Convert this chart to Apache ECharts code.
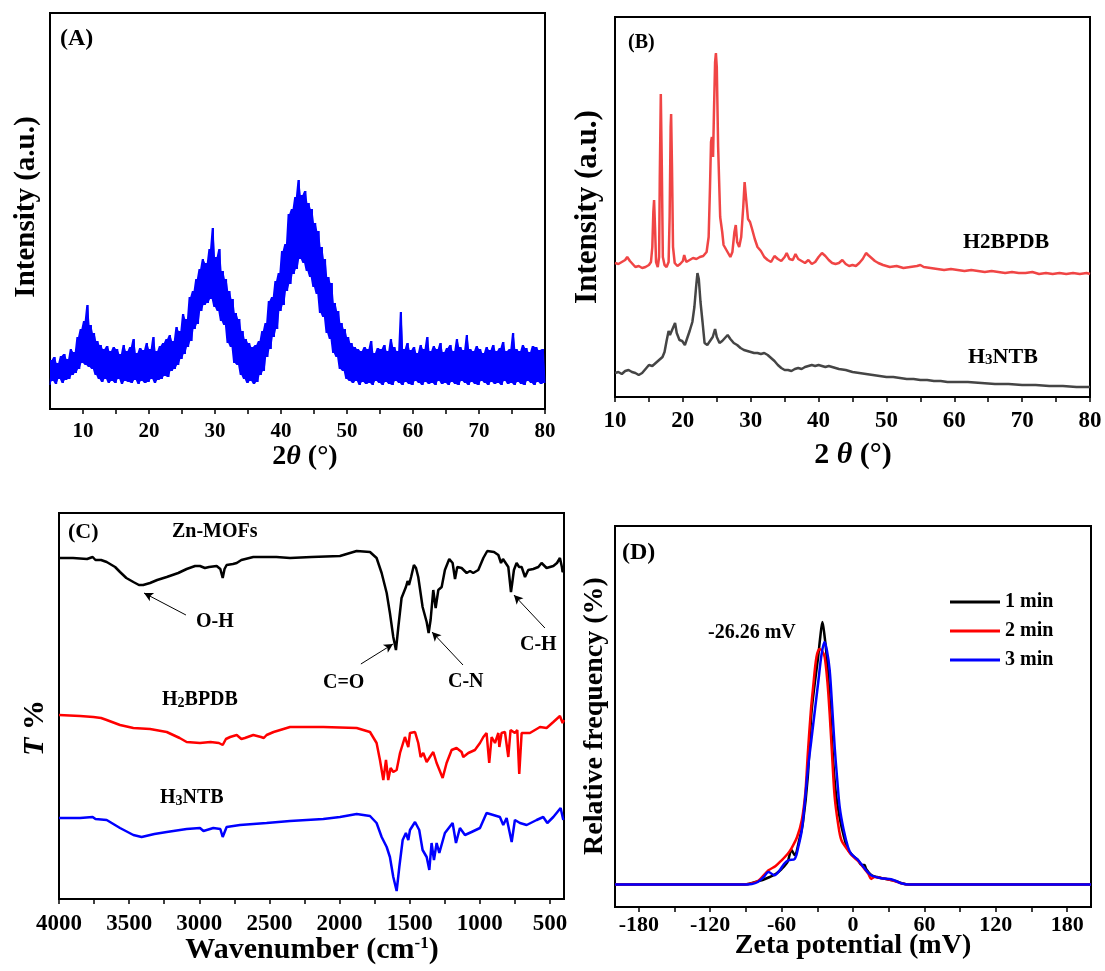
<!DOCTYPE html>
<html>
<head>
<meta charset="utf-8">
<script src="https://cdn.jsdelivr.net/npm/echarts@6/dist/echarts.min.js"></script>
<style>
html, body { margin: 0; padding: 0; background: #fff; }
#chart { width: 1105px; height: 971px; }
</style>
</head>
<body>
<div id="chart"></div>
<script>
// (A) XRD of Zn-MOFs, sampled every 0.25 deg from 5 to 80 (a.u.)
const xrdStartA = 5, xrdStepA = 0.25;
const intensityA = [
    24,49,28,52, 25,46,30,53, 26,55,29,50, 30,60,34,57, 36,72,40,80,
    46,88,44,104, 42,84,40,76, 34,68,30,64, 27,60,30,63, 26,58,28,62,
    26,60,30,55, 25,64,28,58, 27,62,26,70, 29,56,25,61, 28,59,26,66,
    27,60,30,72, 26,58,29,63, 30,66,33,70, 32,74,38,68, 40,82,44,78,
    50,95,55,90, 62,112,68,118, 80,130,85,140, 98,150,104,146, 106,160,110,181,
    102,152,98,160, 88,138,84,130, 66,118,62,110, 46,96,44,90, 34,78,30,70,
    26,66,28,62, 25,64,27,68, 34,78,38,86, 52,108,60,112, 72,128,80,136,
    98,158,104,165, 118,195,125,200, 135,212,140,229, 150,214,146,218, 138,206,132,200,
    122,186,115,178, 96,162,92,150, 76,132,70,126, 56,106,52,98, 40,86,38,80,
    30,72,28,66, 26,62,28,60, 24,58,27,62, 25,60,26,68, 24,56,28,61,
    26,60,24,64, 27,58,25,70, 24,62,28,58, 26,97,24,60, 27,66,25,59,
    24,62,28,56, 26,64,24,60, 27,72,25,58, 26,63,24,60, 28,66,25,57,
    26,61,24,64, 27,58,25,70, 24,62,28,59, 26,74,24,60, 27,58,25,63,
    24,60,28,56, 26,62,24,59, 27,64,25,58, 26,61,24,67, 28,58,25,60,
    26,76,24,60, 27,58,25,64, 24,61,28,57, 26,63,24,62, 27,59,25,60,
    26
];

// (B) XRD of the ligands [2theta, intensity]
const bpdbXRD = [
    [10,134],[10.5,133],[11,135],[11.5,137],[11.8,140],[12.2,136],[12.6,133],[13,130],[13.5,131],[14,129],
    [14.5,130],[15,132],[15.3,135],[15.5,150],[15.65,185],[15.76,197],[15.9,170],[16.05,135],[16.3,130],[16.5,140],
    [16.6,220],[16.75,303],[16.9,230],[17.05,140],[17.3,132],[17.6,130],[17.9,135],[18.05,180],[18.2,270],[18.27,283],
    [18.4,230],[18.55,150],[18.8,134],[19.2,131],[19.6,133],[20,136],[20.2,142],[20.5,135],[21,137],[21.5,139],
    [22,138],[22.5,140],[23,141],[23.5,145],[23.8,160],[24,210],[24.15,255],[24.28,260],[24.45,240],[24.6,290],
    [24.75,335],[24.87,344],[25,330],[25.2,250],[25.5,180],[25.8,165],[26,152],[26.5,146],[27,140],[27.3,145],
    [27.6,165],[27.8,172],[28,155],[28.3,150],[28.6,160],[28.9,190],[29.1,215],[29.3,200],[29.6,178],[29.9,175],
    [30.2,168],[30.6,158],[31,150],[31.5,146],[32,140],[32.5,137],[33,135],[33.5,141],[34,138],[34.5,136],
    [35,140],[35.3,144],[35.7,138],[36.2,137],[36.6,143],[37,138],[37.5,136],[38,134],[38.5,137],[39,133],
    [39.5,135],[40,140],[40.5,144],[41,141],[41.5,137],[42,134],[42.5,133],[43,134],[43.5,137],[44,133],
    [44.5,131],[45,132],[45.5,131],[46,134],[46.5,138],[47,144],[47.3,142],[47.8,139],[48.3,136],[48.8,134],
    [49.5,132],[50,131],[50.5,130],[51.5,131],[52.5,129],[53.5,130],[54.5,131],[55,132],[55.5,130],[56.5,129],
    [57.5,128],[58.5,127],[59.5,128],[60.5,127],[61.5,126],[62.5,127],[63.5,126],[64.5,125],[65.5,126],[66.5,125],
    [67.5,124],[68.5,125],[69.5,124],[70.5,124],[71.5,125],[72.5,123],[73.5,124],[74.5,123],[75.5,124],[76.5,123],
    [77.5,124],[78.5,123],[79.5,124],[80,123]
];
const ntbXRD = [
    [10,24],[10.5,25],[11,23],[11.5,26],[12,27],[12.5,25],[13,24],[13.5,22],[14,24],[14.5,28],
    [15,32],[15.5,31],[16,34],[16.5,37],[17,40],[17.3,45],[17.6,56],[17.9,66],[18.1,62],[18.3,60],
    [18.6,70],[18.85,74],[19.1,64],[19.5,57],[19.9,56],[20.3,52],[20.6,58],[21,66],[21.4,75],[21.7,90],
    [21.95,110],[22.15,124],[22.35,118],[22.6,95],[22.9,75],[23.2,54],[23.6,52],[24,56],[24.4,60],[24.75,68],
    [25,60],[25.4,54],[25.8,56],[26.2,59],[26.6,62],[27,58],[27.5,54],[28,52],[28.5,49],[29,47],
    [29.5,46],[30,45],[30.5,44],[31,44],[31.5,43],[32,44],[32.5,42],[33,39],[33.5,36],[34,32],
    [34.5,29],[35,27],[35.5,27],[36,26],[36.5,28],[37,29],[37.5,28],[38,30],[38.5,31],[39,32],
    [39.5,31],[40,32],[40.5,31],[41,30],[41.5,31],[42,30],[43,28],[44,27],[45,25],[46,24],
    [47,23],[48,22],[49,21],[50,20],[51,20],[52,19],[53,18],[54,18],[55,17],[56,17],
    [57,16],[58,16],[59,15],[60,15],[62,15],[64,14],[66,13],[68,13],[70,12],[72,12],
    [74,11],[76,11],[78,10],[80,10]
];

// (C) FTIR [wavenumber, T]
const znFTIR = [
    [4000,341],[3900,341],[3800,340],[3760,342],[3740,339],[3700,339],[3660,337],[3600,332],[3565,327],[3520,321],
    [3470,317],[3430,314],[3400,314],[3351,316],[3300,319],[3232,322],[3150,326],[3090,330],[3030,333],[2995,333],
    [2960,331],[2930,332],[2876,333],[2850,330],[2833,321],[2820,330],[2805,334],[2760,335],[2733,336],[2720,334],
    [2700,339],[2615,342],[2450,342],[2353,341],[2200,342],[1997,343],[1878,348],[1783,347],[1736,341],[1700,326],
    [1664,306],[1641,286],[1617,262],[1598,249],[1581,272],[1558,301],[1527,312],[1515,318],[1505,314],[1490,322],
    [1470,334],[1455,331],[1439,322],[1408,292],[1379,277],[1365,266],[1351,279],[1332,309],[1315,291],[1296,309],
    [1272,312],[1249,329],[1218,340],[1194,336],[1177,320],[1161,332],[1130,331],[1094,326],[1070,328],[1047,326],
    [1011,329],[975,341],[947,348],[899,347],[868,344],[849,336],[835,340],[821,340],[797,332],[778,307],
    [770,315],[757,329],[738,336],[720,332],[702,332],[678,322],[655,329],[619,330],[583,332],[560,336],
    [548,337],[524,331],[476,333],[450,336],[429,341],[415,332],[410,327],[400,329]
];
const bpdbFTIR = [
    [4000,184],[3850,183],[3755,182],[3700,181],[3660,179],[3565,174],[3470,171],[3351,170],[3232,167],[3140,161],
    [3090,157],[2995,156],[2920,157],[2860,156],[2833,154],[2810,160],[2780,162],[2733,164],[2700,160],[2675,161],
    [2615,164],[2560,162],[2540,161],[2520,164],[2470,167],[2353,172],[2282,172],[2116,172],[1878,171],[1783,167],
    [1736,156],[1712,139],[1688,119],[1669,139],[1653,119],[1636,131],[1617,127],[1593,129],[1569,146],[1534,162],
    [1510,152],[1498,166],[1462,167],[1439,156],[1422,142],[1403,146],[1379,137],[1356,142],[1332,147],[1308,136],
    [1265,121],[1237,136],[1201,149],[1166,151],[1130,147],[1118,142],[1082,146],[1035,149],[999,156],[975,162],
    [952,166],[933,136],[916,162],[892,156],[868,166],[861,152],[845,166],[821,167],[797,142],[781,169],
    [750,166],[733,169],[719,125],[702,166],[643,166],[571,172],[524,171],[476,177],[429,183],[410,176],
    [400,179]
];
const ntbFTIR = [
    [4000,81],[3850,81],[3760,82],[3740,80],[3660,79],[3565,71],[3470,64],[3411,62],[3320,65],[3232,67],
    [3090,70],[2995,71],[2970,68],[2900,71],[2850,70],[2833,62],[2805,72],[2710,74],[2520,76],[2353,78],
    [2116,80],[1997,82],[1878,85],[1783,83],[1736,76],[1700,62],[1664,52],[1641,42],[1617,22],[1593,8],
    [1574,32],[1550,59],[1527,66],[1510,59],[1498,69],[1462,77],[1432,69],[1408,49],[1379,42],[1360,29],
    [1344,56],[1327,39],[1308,56],[1289,46],[1249,66],[1194,76],[1170,56],[1142,71],[1106,64],[1059,67],
    [999,71],[952,86],[904,84],[857,82],[833,74],[809,81],[773,57],[750,79],[714,76],[666,74],
    [595,79],[548,82],[519,76],[476,82],[424,91],[405,79],[400,79]
];

// (D) zeta potential distributions [mV, relative frequency]
const zeta1 = [
    [-200,22.4],[-95,22.4],[-88,23],[-82,25],[-76,27],[-70,30],[-65,33],[-60,38],[-55,45],[-51.7,57],
    [-49,52],[-45,68],[-42,85],[-38,130],[-35,193],[-32,225],[-29.3,250],[-27.5,270],[-25.7,285],[-24,272],
    [-22.3,253],[-20,215],[-18,173],[-16,135],[-14,110],[-11,88],[-8,72],[-4.5,58],[-1.4,53],[2,49],
    [4.2,47],[7,42],[9.7,42],[11,38],[15.3,32],[20,30],[23.7,29],[32,27],[36,26],[40.4,24],
    [47,22.4],[200,22.4]
];
const zeta2 = [
    [-200,22.4],[-95,22.4],[-88,23],[-80,26],[-71,36.7],[-65,41],[-60,46.7],[-55,53],[-51.7,58.7],[-47,70],
    [-43,87],[-40,115],[-38,153],[-35.5,195],[-33.5,220],[-30.7,250],[-28,258],[-26,256],[-23.8,250],[-21.5,225],
    [-19.6,193],[-17.5,150],[-15.4,110],[-12.5,83],[-9.8,67],[-4.2,56.7],[-1.4,52],[4.2,46],[9.7,38],[13,33],
    [15.3,28],[18,30],[23.7,29],[32,27],[40.4,23.7],[47,22.4],[200,22.4]
];
const zeta3 = [
    [-200,22.4],[-95,22.4],[-85,23],[-80,25],[-75,30],[-71,35],[-66,31.7],[-62,36],[-58,43],[-54.5,46.7],
    [-49,48],[-46,60],[-43,77],[-40.5,105],[-38,137],[-35,167],[-32,197],[-29,227],[-26.5,252],[-24,265],
    [-22,257],[-19.6,237],[-17.5,200],[-15.4,160],[-13.3,128],[-11.2,100],[-8,78],[-4.2,60],[-1.4,53],[4.2,47],
    [9.7,38.7],[15.3,31.7],[23.7,28.7],[32,27.7],[36,26],[40.4,23.7],[47,22.4],[200,22.4]
];

// tick positions and labels
const ticksA = [10,15,20,25,30,35,40,45,50,55,60,65,70,75,80];
const labelsA = [10,20,30,40,50,60,70,80];
const ticksB = [10,15,20,25,30,35,40,45,50,55,60,65,70,75,80];
const labelsB = [10,20,30,40,50,60,70,80];
const ticksC = [500,750,1000,1250,1500,1750,2000,2250,2500,2750,3000,3250,3500,3750,4000];
const labelsC = [500,1000,1500,2000,2500,3000,3500,4000];
const ticksD = [-180,-150,-120,-90,-60,-30,0,30,60,90,120,150,180];
const labelsD = [-180,-120,-60,0,60,120,180];

const FONT = '"Times New Roman", "Liberation Serif", serif';

// panel A: the trace, plus the solid band that the dense noise forms
const angleA = intensityA.map((_, i) => xrdStartA + i * xrdStepA);
const seriesA = intensityA.map((v, i) => [angleA[i], v]);
const last = intensityA.length - 1;
const bandHighA = intensityA.map((v, i) => [angleA[i], Math.max(v, intensityA[Math.min(i + 1, last)])]);
const bandLowA = intensityA.map((v, i) => [angleA[i], Math.min(v, intensityA[Math.min(i + 1, last)])]);

function xAxisOf(grid, min, max, ticks, labels, size, margin, inverse) {
    return {
        type: 'value', gridIndex: grid, min: min, max: max, inverse: !!inverse,
        axisLine: { show: true, onZero: false, lineStyle: { color: '#000', width: 2 } },
        axisTick: { show: true, customValues: ticks, length: 5, lineStyle: { color: '#000', width: 1.5 } },
        axisLabel: {
            customValues: labels, margin: margin, color: '#000',
            fontSize: size, fontWeight: 'bold', fontFamily: FONT,
            formatter: v => String(v)
        },
        splitLine: { show: false }
    };
}
function yAxisOf(grid, max) {
    return {
        type: 'value', gridIndex: grid, min: 0, max: max,
        axisLine: { show: true, onZero: false, lineStyle: { color: '#000', width: 2 } },
        axisTick: { show: false }, axisLabel: { show: false }, splitLine: { show: false }
    };
}
function gridOf(left, top, width, height) {
    return { left: left, top: top, width: width, height: height, show: true, borderColor: '#000', borderWidth: 2 };
}
function lineOf(name, data, x, y, color, width, smooth) {
    return {
        name: name, type: 'line', xAxisIndex: x, yAxisIndex: y, data: data,
        symbol: 'none', smooth: smooth || false,
        lineStyle: { color: color, width: width }, itemStyle: { color: color }
    };
}
function txt(text, x, y, size, extra) {
    const style = Object.assign({
        text: text, x: 0, y: 0, fill: '#000', fontSize: size, fontWeight: 'bold',
        fontFamily: FONT, align: 'left', verticalAlign: 'middle'
    }, extra && extra.style);
    return { type: 'text', x: x, y: y, z: 100, rotation: (extra && extra.rotation) || 0, style: style };
}
function richOf(size, subSize, subLine, subAlign) {
    return {
        n: { fontSize: size, fontWeight: 'bold', fontFamily: FONT, fill: '#000' },
        i: { fontSize: size, fontWeight: 'bold', fontStyle: 'italic', fontFamily: FONT, fill: '#000' },
        s: { fontSize: subSize, fontWeight: 'bold', fontFamily: FONT, fill: '#000', verticalAlign: subAlign || 'bottom', lineHeight: subLine }
    };
}

const arrow = (from, to) => [{ coord: from }, { coord: to }];

const chart = echarts.init(document.getElementById('chart'));
chart.setOption({
    animation: false,
    backgroundColor: '#fff',
    grid: [
        gridOf(50, 13, 495, 396),
        gridOf(615, 17, 475, 380),
        gridOf(59, 513, 505, 386),
        gridOf(615, 526, 476, 381)
    ],
    xAxis: [
        xAxisOf(0, 5, 80, ticksA, labelsA, 21, 12),
        xAxisOf(1, 10, 80, ticksB, labelsB, 23, 13),
        xAxisOf(2, 400, 4000, ticksC, labelsC, 23, 14, true),
        xAxisOf(3, -200, 200, ticksD, labelsD, 22, 7)
    ],
    yAxis: [yAxisOf(0, 396), yAxisOf(1, 380), yAxisOf(2, 386), yAxisOf(3, 381)],
    legend: {
        data: ['1 min', '2 min', '3 min'], orient: 'vertical', left: 945, top: 587,
        icon: 'rect', itemWidth: 50, itemHeight: 3, itemGap: 9, selectedMode: false,
        textStyle: { fontSize: 20, fontWeight: 'bold', fontFamily: FONT, color: '#000' }
    },
    series: [
        {
            // the dense noise band of panel A, filled between its lower and upper edges
            name: 'Zn-MOFs band', type: 'custom', xAxisIndex: 0, yAxisIndex: 0,
            data: [[xrdStartA, 0]], silent: true,
            renderItem: (params, api) => {
                const upper = bandHighA.map(p => api.coord(p));
                const lower = bandLowA.slice().reverse().map(p => api.coord(p));
                return {
                    type: 'polygon',
                    shape: { points: upper.concat(lower) },
                    style: { fill: '#0000ff', stroke: null }
                };
            }
        },
        lineOf('Zn-MOFs XRD', seriesA, 0, 0, '#0000ff', 1),
        lineOf('H2BPDB XRD', bpdbXRD, 1, 1, '#f04545', 2.5),
        lineOf('H3NTB XRD', ntbXRD, 1, 1, '#454545', 2.5),
        Object.assign(lineOf('Zn-MOFs', znFTIR, 2, 2, '#000', 2.5), {
            markLine: {
                silent: true, symbol: ['none', 'arrow'], symbolSize: [7, 9],
                label: { show: false },
                lineStyle: { color: '#000', width: 1, type: 'solid' },
                data: [
                    arrow([3095, 284], [3394, 306]),
                    arrow([1848, 235], [1619, 255]),
                    arrow([1120, 234], [1341, 267]),
                    arrow([536, 271], [757, 304])
                ]
            }
        }),
        lineOf('H2BPDB', bpdbFTIR, 2, 2, '#ff0000', 2.5),
        lineOf('H3NTB', ntbFTIR, 2, 2, '#0000ff', 2.5),
        lineOf('1 min', zeta1, 3, 3, '#000000', 2.5, 0.3),
        lineOf('2 min', zeta2, 3, 3, '#ff0000', 2.5, 0.3),
        lineOf('3 min', zeta3, 3, 3, '#0000ff', 2.5, 0.3)
    ],
    graphic: [
        // panel A
        txt('(A)', 60, 39, 24),
        txt('Intensity (a.u.)', 27, 207, 29, { rotation: Math.PI / 2, style: { align: 'center' } }),
        txt('{n|2}{i|θ}{n| (°)}', 305, 457, 28, { style: { align: 'center', rich: richOf(28, 16, 8) } }),
        // panel B
        txt('(B)', 628, 43, 20),
        txt('Intensity (a.u.)', 588, 207, 31, { rotation: Math.PI / 2, style: { align: 'center' } }),
        txt('{n|2 }{i|θ}{n| (°)}', 853, 455, 30, { style: { align: 'center', rich: richOf(30, 16, 8) } }),
        txt('{n|H}{s|2}{n|BPDB}', 963, 242, 22, { style: { rich: richOf(22, 21, 14) } }),
        txt('{n|H}{s|3}{n|NTB}', 968, 357, 22, { style: { rich: richOf(22, 15, 8) } }),
        // panel C
        txt('(C)', 68, 532, 22),
        txt('Zn-MOFs', 172, 532, 20),
        txt('O-H', 196, 622, 20),
        txt('C=O', 323, 683, 20),
        txt('C-N', 448, 682, 20),
        txt('C-H', 520, 645, 20),
        txt('{n|H}{s|2}{n|BPDB}', 162, 700, 20, { style: { rich: richOf(20, 14, 8) } }),
        txt('{n|H}{s|3}{n|NTB}', 160, 798, 20, { style: { rich: richOf(20, 14, 8) } }),
        txt('{i|T}{n| %}', 35, 728, 30, { rotation: Math.PI / 2, style: { align: 'center', rich: richOf(30, 16, 8) } }),
        txt('{n|Wavenumber (cm}{s|-1}{n|)}', 312, 950, 30, { style: { align: 'center', rich: richOf(30, 17, 12, 'top') } }),
        // panel D
        txt('(D)', 622, 553, 24),
        txt('-26.26 mV', 708, 633, 20),
        txt('Relative frequency (%)', 595, 716, 28, { rotation: Math.PI / 2, style: { align: 'center' } }),
        txt('Zeta potential (mV)', 853, 946, 28, { style: { align: 'center' } })
    ]
});
</script>
</body>
</html>
